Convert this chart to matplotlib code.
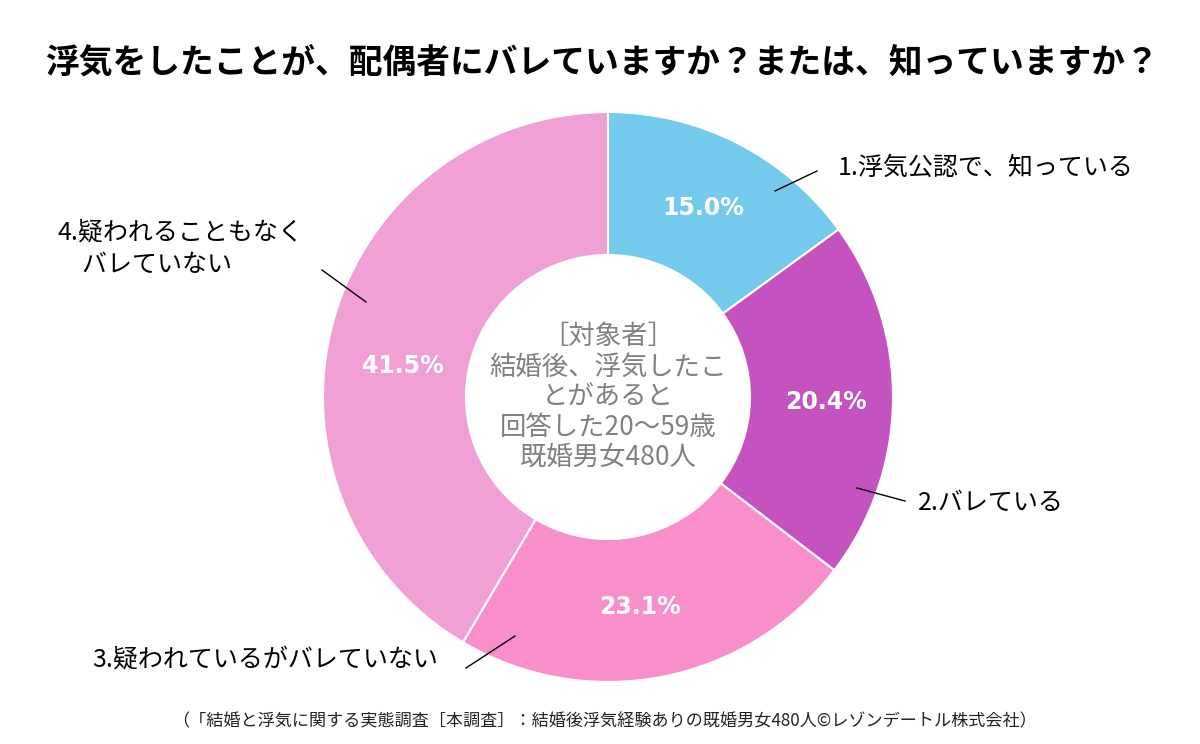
import matplotlib
matplotlib.use("Agg")
import matplotlib.pyplot as plt

plt.rcParams['font.family'] = ['Noto Sans CJK JP', 'DejaVu Sans']

# ---- data ----
categories = ["1.浮気公認で、知っている", "2.バレている", "3.疑われているがバレていない",
              "4.疑われることもなく\n　バレていない"]
values = [15.0, 20.4, 23.1, 41.5]
pct_labels = ["15.0%", "20.4%", "23.1%", "41.5%"]
colors = ["#74CAEC", "#C453C0", "#F88FCB", "#F0A0D4"]
title = "浮気をしたことが、配偶者にバレていますか？または、知っていますか？"
center_text = "［対象者］\n結婚後、浮気したこ\nとがあると\n回答した20～59歳\n既婚男女480人"
footnote = "（「結婚と浮気に関する実態調査［本調査］：結婚後浮気経験ありの既婚男女480人©レゾンデートル株式会社）"

W, H = 1200, 744
fig = plt.figure(figsize=(W / 100, H / 100), dpi=100)
ax = fig.add_axes([0, 0, 1, 1])
ax.set_xlim(0, W)
ax.set_ylim(0, H)
ax.set_aspect('equal')
ax.axis('off')

def Y(y):
    return H - y

cx, cy, R, ring = 608, 397, 285, 143
ax.pie(values, colors=colors, startangle=90, counterclock=False,
       center=(cx, Y(cy)), radius=R, frame=True,
       wedgeprops=dict(width=ring, edgecolor='white', linewidth=1.5))
ax.set_xlim(0, W)
ax.set_ylim(0, H)
ax.axis('off')

# percentage labels
pct_pos = [(703, 208), (826, 402), (640, 607), (403, 366)]
for (px, py), t in zip(pct_pos, pct_labels):
    ax.text(px, Y(py), t, color='white', fontsize=17, fontweight='bold',
            family='DejaVu Sans', ha='center', va='center')

# category labels
label_pos = [(838, 168, 'left'), (918, 503, 'left'), (92, 660, 'left'), (57, 249, 'left')]
for (lx, ly, ha), t in zip(label_pos, categories):
    ax.text(lx, Y(ly), t, color='black', fontsize=18, ha=ha, va='center',
            linespacing=1.3)

# leader lines
leaders = [((775, 191), (817, 171)), ((857, 488), (905, 501)),
           ((515, 636), (466, 668)), ((366, 302), (322, 270))]
for (x0, y0), (x1, y1) in leaders:
    ax.plot([x0, x1], [Y(y0), Y(y1)], color='black', linewidth=1)

# center text
ax.text(cx, Y(397), center_text, color='#808080', fontsize=19, ha='center',
        va='center', linespacing=1.15)

# title
ax.text(602, Y(62), title, fontsize=24.3, fontweight='bold', ha='center', va='center')

# footnote
ax.text(604, Y(721), footnote, fontsize=12.3, ha='center', va='center', color='#222222')

fig.savefig("out.png", dpi=100, facecolor='white')
